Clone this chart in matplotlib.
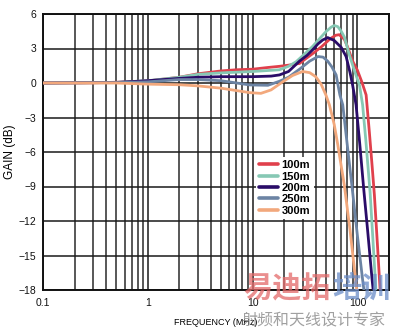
import matplotlib
matplotlib.use("Agg")
import matplotlib.pyplot as plt
from matplotlib.ticker import FixedLocator, NullFormatter, LogLocator

plt.rcParams['font.family'] = ['Liberation Sans', 'DejaVu Sans']

# ---- data (frequency in MHz, gain in dB) ----
f_100 = [0.1, 0.3, 0.6, 1, 2, 3, 5, 7, 10, 14, 18, 22, 28, 32, 38, 46, 55, 62, 67, 75, 80, 90, 100, 110, 121, 130, 138, 145, 155, 165]
g_100 = [0, 0.02, 0.08, 0.18, 0.5, 0.8, 1.05, 1.15, 1.2, 1.35, 1.45, 1.55, 1.7, 2.1, 2.6, 3.2, 3.85, 4.15, 4.2, 3.8, 3.2, 1.9, 1.1, 0.1, -1.04, -4.3, -7.2, -9.7, -14.0, -18.2]

f_150 = [0.1, 0.5, 1, 2, 3, 5, 10, 18, 22, 26, 32, 37.5, 44, 50, 56, 60, 65, 70, 75, 84, 95, 104.5, 112, 120, 132, 140, 150]
g_150 = [0, 0.05, 0.2, 0.5, 0.75, 0.88, 1.0, 1.15, 1.45, 1.85, 2.6, 3.2, 3.9, 4.46, 4.85, 5.0, 4.9, 4.5, 4.0, 2.4, 0.9, -0.17, -1.9, -4.9, -9.5, -13.4, -18]

f_200 = [0.1, 0.5, 1, 2, 3, 5, 10, 15, 18, 22, 28, 33, 37.5, 42, 46.6, 52, 60, 70, 78, 85, 90, 97, 105, 115, 125, 138, 142]
g_200 = [0, 0.05, 0.2, 0.4, 0.5, 0.55, 0.55, 0.6, 0.7, 1.0, 1.9, 2.4, 2.9, 3.4, 3.74, 3.95, 3.7, 3.1, 2.3, 0.9, -0.2, -1.9, -5.2, -9.3, -12.8, -17.1, -18.2]

f_250 = [0.1, 0.5, 1, 2, 3, 5, 9.4, 14, 18, 22, 28, 35, 42, 47, 52, 57, 62.6, 68, 72.4, 80, 90, 100, 112, 116]
g_250 = [0, 0.03, 0.1, 0.3, 0.3, 0.2, -0.17, -0.2, 0.15, 0.5, 1.2, 1.9, 2.3, 2.25, 1.9, 1.4, 0.7, -1.04, -1.9, -5.4, -9.5, -13.3, -17.1, -18.2]

f_300 = [0.1, 0.5, 1, 2, 3, 5, 9.4, 12, 15, 19, 24, 30, 35, 40, 45, 50, 54, 60, 65, 75, 85, 96, 99]
g_300 = [0, 0, -0.1, -0.15, -0.25, -0.45, -0.84, -0.9, -0.6, 0.05, 0.65, 1.0, 0.9, 0.55, -0.1, -1.04, -1.9, -3.6, -5.4, -8.9, -12.8, -17.1, -18.2]

labels = ["100m", "150m", "200m", "250m", "300m"]
colors = ["#e0404c", "#86c8b4", "#2a0c68", "#6c84a4", "#f2a87c"]

x_ticks = [0.1, 1, 10, 100]
x_ticklabels = ["0.1", "1", "10", "100"]
y_ticks = [6, 3, 0, -3, -6, -9, -12, -15, -18]

fig = plt.figure(figsize=(3.95, 3.32), dpi=100)
ax = fig.add_axes([43/395, 1-290/332, (389-43)/395, (290-14)/332])

series = [(f_100, g_100), (f_150, g_150), (f_200, g_200), (f_250, g_250), (f_300, g_300)]
order = [0, 1, 2, 3, 4]
handles = {}
for i in order:
    f, g = series[i]
    ln, = ax.plot(f, g, color=colors[i], lw=2.0, label=labels[i],
                  zorder=3 + i * 0.1, solid_joinstyle='round', solid_capstyle='round')
    handles[i] = ln

ax.set_xscale('log')
ax.set_xlim(0.1, 200)
ax.set_ylim(-18, 6)
ax.xaxis.set_major_locator(FixedLocator(x_ticks))
ax.set_xticklabels(x_ticklabels)
ax.xaxis.set_minor_locator(LogLocator(base=10, subs=range(2, 10), numticks=20))
ax.xaxis.set_minor_formatter(NullFormatter())
ax.set_yticks(y_ticks)
ax.set_yticklabels([str(v).replace('-', '\u2212') for v in y_ticks])
ax.tick_params(which='both', length=0, labelsize=7.5, colors='#111111')
ax.tick_params(axis='x', pad=6)
ax.tick_params(axis='y', pad=5)
ax.grid(which='major', color='#1a1a1a', lw=1.1, zorder=1)
ax.grid(which='minor', axis='x', color='#2a2a2a', lw=1.1, zorder=1)
for s in ax.spines.values():
    s.set_linewidth(1.4)
    s.set_color('#111111')

ax.set_xlabel("FREQUENCY (MHz)", fontsize=6.5, labelpad=7)
ax.set_ylabel("GAIN (dB)", fontsize=8.5, labelpad=2)

leg = ax.legend([handles[i] for i in range(5)], labels, loc='upper left',
                bbox_to_anchor=((256-43)/346, (290-157)/276), frameon=True,
                handlelength=1.7, handletextpad=0.3,
                labelspacing=0.12, borderpad=0.3, borderaxespad=0.0,
                prop={'weight': 'bold', 'size': 8})
leg.get_frame().set_facecolor('white')
leg.get_frame().set_edgecolor('none')
leg.get_frame().set_alpha(1.0)
leg.set_zorder(5)
for l in leg.get_lines():
    l.set_linewidth(2.6)

# watermark
cjk = ['Noto Sans CJK SC', 'DejaVu Sans']
fig.text(243/395, 1-288/332, "易迪拓", fontsize=21, color='#e46a6a', alpha=0.75,
         family=cjk, fontweight='bold', va='center', ha='left')
fig.text(332/395, 1-288/332, "培训", fontsize=21, color='#6a8cc8', alpha=0.75,
         family=cjk, fontweight='bold', va='center', ha='left')
fig.text(241/395, 1-321/332, "射频和天线设计专家", fontsize=11.5, color='#888888', alpha=0.8,
         family=cjk, va='center', ha='left')

fig.savefig("out.png", dpi=100)
